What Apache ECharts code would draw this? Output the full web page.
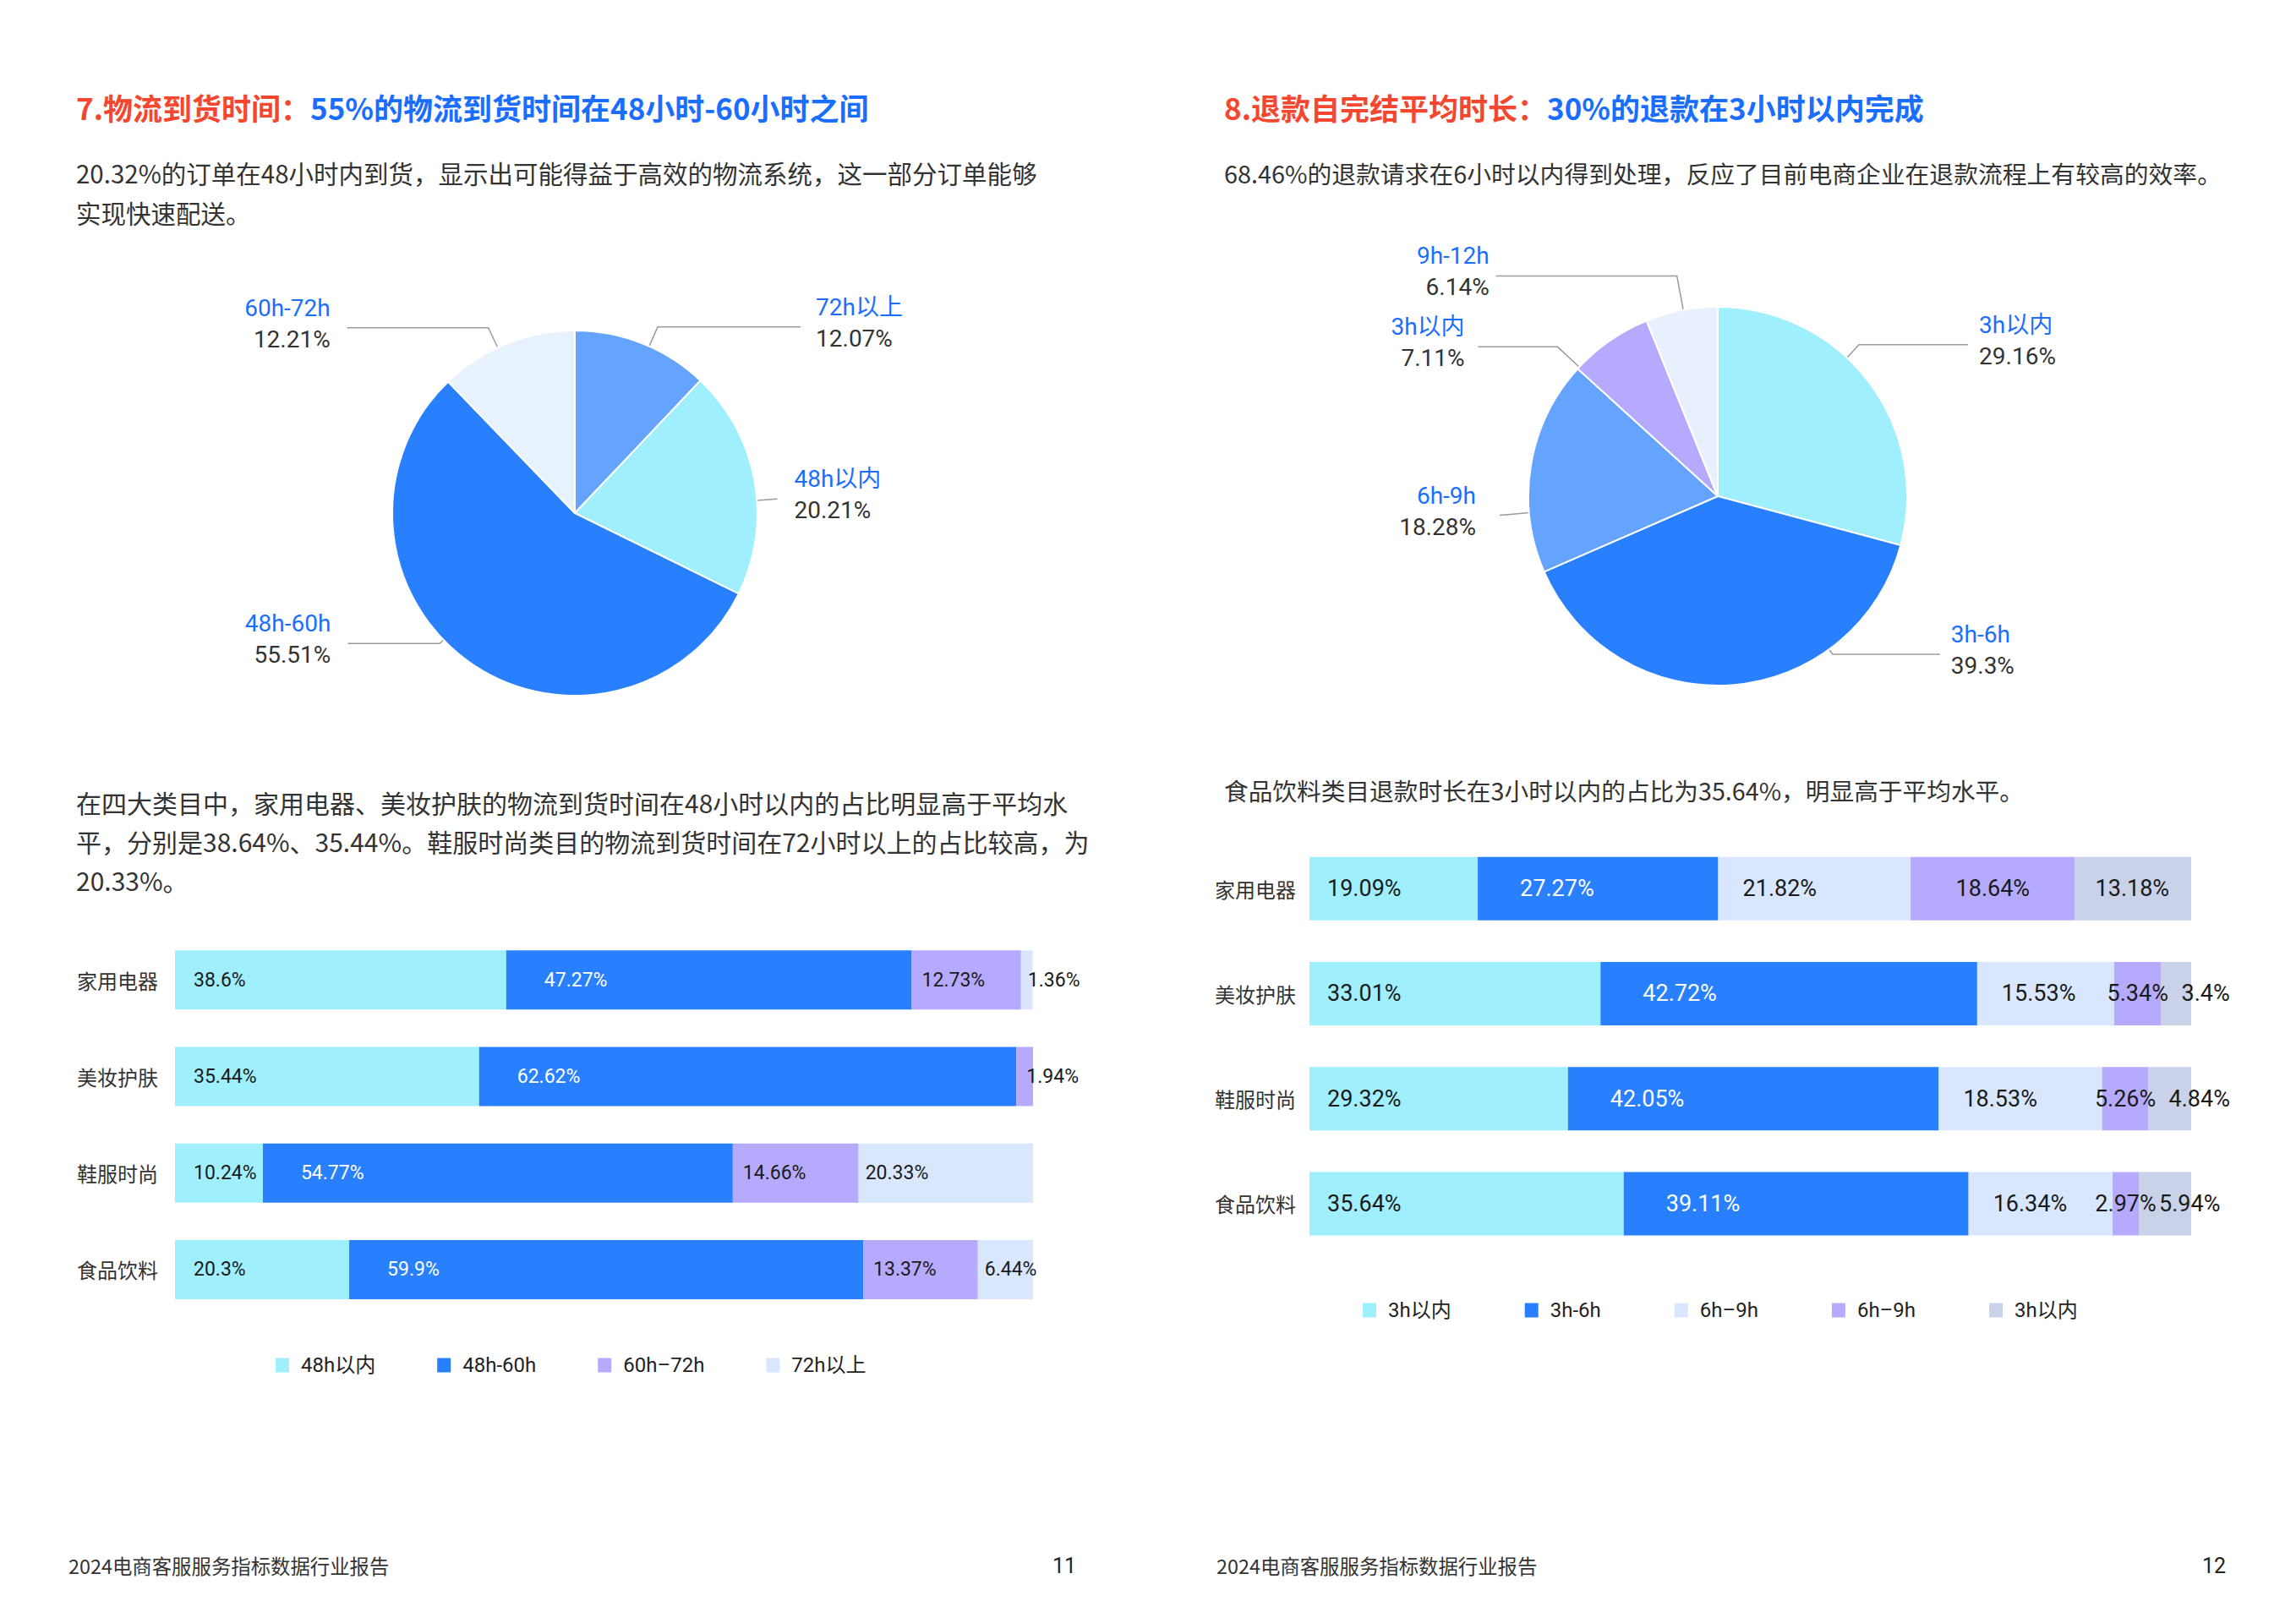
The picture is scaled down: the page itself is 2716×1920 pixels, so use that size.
<!DOCTYPE html>
<html><head><meta charset="utf-8">
<script src="https://cdn.jsdelivr.net/npm/echarts/dist/echarts.min.js"></script>
<style>html,body{margin:0;padding:0;background:#fff}#c{width:2716px;height:1920px}</style>
</head><body><div id="c"></div><script>
// ---------- data ----------
const categories = ['家用电器', '美妆护肤', '鞋服时尚', '食品饮料'];

// left pie: logistics delivery time
const pie1Names = ['72h以上', '48h以内', '48h-60h', '60h-72h'];
const pie1Values = [12.07, 20.21, 55.51, 12.21];

// right pie: refund completion time
const pie2Names = ['3h以内', '3h-6h', '6h-9h', '3h以内', '9h-12h'];
const pie2Values = [29.16, 39.3, 18.28, 7.11, 6.14];

// left stacked bars
const leftSeriesNames = ['48h以内', '48h-60h', '60h–72h', '72h以上'];
const leftWithin48 = [38.6, 35.44, 10.24, 20.3];
const left48to60 = [47.27, 62.62, 54.77, 59.9];
const left60to72 = [12.73, 1.94, 14.66, 13.37];
const leftOver72 = [1.36, 0, 20.33, 6.44];

// right stacked bars
const rightSeriesNames = ['3h以内', '3h-6h', '6h–9h', '6h–9h#2', '3h以内#2'];
const rightWithin3 = [19.09, 33.01, 29.32, 35.64];
const right3to6 = [27.27, 42.72, 42.05, 39.11];
const right6to9a = [21.82, 15.53, 18.53, 16.34];
const right6to9b = [18.64, 5.34, 5.26, 2.97];
const rightWithin3b = [13.18, 3.4, 4.84, 5.94];

// ---------- styles ----------
const CJK = "'Noto Sans CJK SC', 'Noto Sans', sans-serif";
const NUM = "Roboto, 'Noto Sans CJK SC', sans-serif";
const RED = '#f5462f', BLUE = '#1a6eff', TEXT = '#333333';
const C_CYAN = '#9feffe', C_BLUE = '#2880ff', C_MID = '#64a3fe', C_LAV = '#b6aafe',
      C_PALE = '#d9e7fe', C_VPALE = '#e8f1fe', C_GRAY = '#c9d2e8';

const pie1Colors = [C_MID, C_CYAN, C_BLUE, C_VPALE];
const pie2Colors = [C_CYAN, C_BLUE, C_MID, C_LAV, '#e8effe'];

// pie label line routing (style): anchor angle (deg, clockwise from top), radial extension, horizontal length, text gap
const pie1Geo = { cx: 680, cy: 607, r: 216,
  ang: [24, 86, 226, 335], ext: [25, 24, 6, 26], len2: [169, 0, 109, 167], gap: [18, 20, 20, 20] };
const pie2Geo = { cx: 2032, cy: 587, r: 224,
  ang: [43, 144, 265, 313, 349.5], ext: [21, 7, 35, 35, 41], len2: [129, 127, 0, 94, 214], gap: [13, 13, 28, 16, 8] };

function pieLayout(g) {
  return function (params) {
    const i = params.dataIndex;
    const t = g.ang[i] * Math.PI / 180;
    const dx = Math.sin(t), dy = -Math.cos(t);
    const p1 = [g.cx + g.r * dx, g.cy + g.r * dy];
    const p2 = [g.cx + (g.r + g.ext[i]) * dx, g.cy + (g.r + g.ext[i]) * dy];
    const side = dx >= 0 ? 1 : -1;
    const p3 = [p2[0] + side * g.len2[i], p2[1]];
    return {
      x: p3[0] + side * g.gap[i], y: p3[1] - 5,
      align: side > 0 ? 'left' : 'right', verticalAlign: 'middle',
      labelLinePoints: [p1, p2, p3]
    };
  };
}

function pieSeries(names, values, colors, g) {
  return {
    type: 'pie', center: [g.cx, g.cy], radius: g.r, startAngle: 90, clockwise: true,
    avoidLabelOverlap: false, animation: false,
    itemStyle: { borderColor: '#fff', borderWidth: 2 },
    data: names.map((n, i) => ({ name: n, value: values[i], itemStyle: { color: colors[i] } })),
    label: {
      show: true, position: 'outside',
      formatter: '{n|{b}}\n{v|{c}%}',
      rich: {
        n: { color: BLUE, fontSize: 28, fontFamily: NUM, lineHeight: 37 },
        v: { color: '#333', fontSize: 28, fontFamily: NUM, lineHeight: 37 }
      }
    },
    labelLine: { show: true, length: 15, length2: 100, lineStyle: { color: '#9a9a9a', width: 1.5 } },
    labelLayout: pieLayout(g)
  };
}

function barSeries(name, data, color, gridIdx, labelColor, pos, dist, fs) {
  return {
    type: 'bar', name: name, stack: 's' + gridIdx, xAxisIndex: gridIdx, yAxisIndex: gridIdx,
    barWidth: gridIdx === 0 ? 70 : 75, data: data, animation: false,
    itemStyle: { color: color },
    label: {
      show: true, position: pos, distance: dist, color: labelColor,
      fontSize: fs, fontFamily: NUM,
      formatter: p => (p.value ? p.value + '%' : '')
    }
  };
}

// ---------- texts ----------
function textEl(x, y, text, size, color, extra) {
  return { type: 'text', x: x, y: y, silent: true,
    style: Object.assign({ text: text, fontSize: size, fontFamily: CJK, fill: color, verticalAlign: 'middle', align: 'left' }, extra || {}) };
}
function titleEl(x, y, a, b) {
  return { type: 'text', x: x, y: y, silent: true,
    style: { text: '{r|' + a + '}{b|' + b + '}', verticalAlign: 'middle', align: 'left',
      rich: { r: { fontSize: 35, fontWeight: 'bold', fontFamily: CJK, fill: RED, color: RED },
              b: { fontSize: 35, fontWeight: 'bold', fontFamily: CJK, fill: BLUE, color: BLUE } } } };
}
function para(x, y0, lh, lines, size) {
  return lines.map((l, i) => textEl(x, y0 + i * lh, l, size, TEXT));
}

const graphics = [].concat(
  [titleEl(90, 126, '7.物流到货时间：', '55%的物流到货时间在48小时-60小时之间')],
  para(90, 204, 47, ['20.32%的订单在48小时内到货，显示出可能得益于高效的物流系统，这一部分订单能够', '实现快速配送。'], 29.5),
  para(90, 949, 46, ['在四大类目中，家用电器、美妆护肤的物流到货时间在48小时以内的占比明显高于平均水',
                     '平，分别是38.64%、35.44%。鞋服时尚类目的物流到货时间在72小时以上的占比较高，为',
                     '20.33%。'], 30),
  [titleEl(1448, 126, '8.退款自完结平均时长：', '30%的退款在3小时以内完成')],
  para(1448, 204, 47, ['68.46%的退款请求在6小时以内得到处理，反应了目前电商企业在退款流程上有较高的效率。'], 28.8),
  para(1448, 934, 46, ['食品饮料类目退款时长在3小时以内的占比为35.64%，明显高于平均水平。'], 28.7),
  [textEl(81, 1852, '2024电商客服服务指标数据行业报告', 23.4, TEXT),
   textEl(1259, 1852, '11', 25, '#222', { align: 'center', fontFamily: NUM }),
   textEl(1439, 1852, '2024电商客服服务指标数据行业报告', 23.4, TEXT),
   textEl(2619, 1852, '12', 25, '#222', { align: 'center', fontFamily: NUM })]
);

const axisLabelStyle = { fontSize: 24, color: '#333', fontFamily: CJK };

const option = {
  backgroundColor: '#ffffff',
  animation: false,
  graphic: graphics,
  grid: [
    { left: 207, top: 1102, width: 1015, height: 457 },
    { left: 1549, top: 989, width: 1043, height: 497 }
  ],
  xAxis: [
    { gridIndex: 0, type: 'value', min: 0, max: 100, show: false },
    { gridIndex: 1, type: 'value', min: 0, max: 100, show: false }
  ],
  yAxis: [
    { gridIndex: 0, type: 'category', inverse: true, data: categories,
      axisLine: { show: false }, axisTick: { show: false }, axisLabel: Object.assign({ margin: 20 }, axisLabelStyle) },
    { gridIndex: 1, type: 'category', inverse: true, data: categories,
      axisLine: { show: false }, axisTick: { show: false }, axisLabel: Object.assign({ margin: 16 }, axisLabelStyle) }
  ],
  legend: [
    { left: 321, top: 1598, itemWidth: 16, itemHeight: 17, itemGap: 73, icon: 'rect',
      data: leftSeriesNames, selectedMode: false,
      textStyle: { fontSize: 24, color: '#222', fontFamily: NUM, padding: [0, 0, 0, 9] } },
    { left: 1607, top: 1533, itemWidth: 16, itemHeight: 17, itemGap: 87, icon: 'rect',
      data: rightSeriesNames, selectedMode: false,
      formatter: n => n.replace(/#\d+$/, ''),
      textStyle: { fontSize: 24, color: '#222', fontFamily: NUM, padding: [0, 0, 0, 9] } }
  ],
  series: [
    pieSeries(pie1Names, pie1Values, pie1Colors, pie1Geo),
    pieSeries(pie2Names, pie2Values, pie2Colors, pie2Geo),
    barSeries(leftSeriesNames[0], leftWithin48, C_CYAN, 0, '#1a1a1a', 'insideLeft', 22, 23),
    barSeries(leftSeriesNames[1], left48to60, C_BLUE, 0, '#ffffff', 'insideLeft', 45, 23),
    barSeries(leftSeriesNames[2], left60to72, C_LAV, 0, '#1a1a1a', 'insideLeft', 12, 23),
    barSeries(leftSeriesNames[3], leftOver72, C_PALE, 0, '#1a1a1a', 'insideLeft', 8, 23),
    barSeries(rightSeriesNames[0], rightWithin3, C_CYAN, 1, '#1a1a1a', 'insideLeft', 21, 27),
    barSeries(rightSeriesNames[1], right3to6, C_BLUE, 1, '#ffffff', 'insideLeft', 50, 27),
    barSeries(rightSeriesNames[2], right6to9a, C_PALE, 1, '#1a1a1a', 'insideLeft', 29, 27),
    barSeries(rightSeriesNames[3], right6to9b, C_LAV, 1, '#1a1a1a', 'inside', 0, 27),
    barSeries(rightSeriesNames[4], rightWithin3b, C_GRAY, 1, '#1a1a1a', 'insideLeft', 24, 27)
  ]
};

const chart = echarts.init(document.getElementById('c'), null, { renderer: 'svg', width: 2716, height: 1920 });
chart.setOption(option);
</script></body></html>
